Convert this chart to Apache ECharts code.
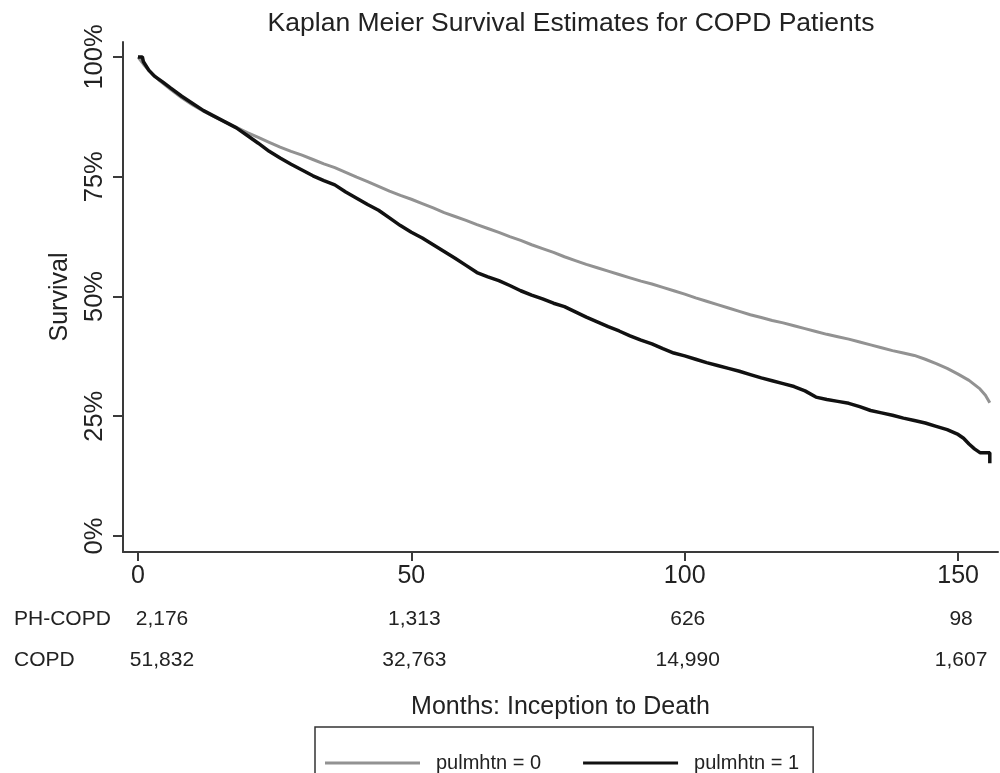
<!DOCTYPE html>
<html>
<head>
<meta charset="utf-8">
<script src="https://cdn.jsdelivr.net/npm/echarts@6/dist/echarts.min.js"></script>
<style>
  html, body { margin: 0; padding: 0; background: #fff; }
  #chart { width: 1000px; height: 773px; }
</style>
</head>
<body>
<div id="chart"></div>
<script>
// Kaplan-Meier survival estimates: [month, survival proportion]
const survivalNoPH = [
  [0, 1.0], [1, 0.985], [2, 0.972], [4, 0.95], [6, 0.932], [8, 0.915], [10, 0.9],
  [12, 0.887], [14, 0.875], [16, 0.864], [18, 0.853], [20, 0.842], [22, 0.832],
  [24, 0.822], [26, 0.812], [28, 0.803], [30, 0.795], [32, 0.786], [34, 0.777],
  [36, 0.769], [38, 0.759], [40, 0.749], [42, 0.74], [44, 0.73], [46, 0.72],
  [48, 0.711], [50, 0.703], [52, 0.694], [54, 0.685], [56, 0.675], [58, 0.667],
  [60, 0.659], [62, 0.65], [64, 0.642], [66, 0.634], [68, 0.625], [70, 0.617],
  [72, 0.608], [74, 0.6], [76, 0.592], [78, 0.583], [80, 0.575], [82, 0.567],
  [84, 0.56], [86, 0.553], [88, 0.546], [90, 0.539], [92, 0.532], [94, 0.526],
  [96, 0.519], [98, 0.512], [100, 0.505], [102, 0.497], [104, 0.49], [106, 0.483],
  [108, 0.476], [110, 0.469], [112, 0.462], [114, 0.456], [116, 0.45], [118, 0.445],
  [120, 0.439], [122, 0.433], [124, 0.427], [126, 0.421], [128, 0.416], [130, 0.411],
  [132, 0.405], [134, 0.399], [136, 0.393], [138, 0.387], [140, 0.382], [142, 0.377],
  [144, 0.369], [146, 0.36], [148, 0.35], [150, 0.338], [152, 0.325], [154, 0.307],
  [155, 0.294], [155.8, 0.278]
];

const survivalPH = [
  [0, 1.0], [0.8, 1.0], [1.0, 0.99], [2, 0.972], [3, 0.96], [4.5, 0.948], [6, 0.935],
  [8, 0.918], [10, 0.903], [12, 0.888], [14, 0.876], [16, 0.864], [18, 0.852],
  [20, 0.836], [22, 0.82], [24, 0.803], [26, 0.789], [28, 0.776], [30, 0.764],
  [32, 0.752], [34, 0.742], [36, 0.733], [38, 0.718], [40, 0.705], [42, 0.692],
  [44, 0.68], [46, 0.664], [48, 0.648], [50, 0.634], [52, 0.622], [54, 0.608],
  [56, 0.594], [58, 0.58], [60, 0.565], [62, 0.55], [64, 0.541], [66, 0.533],
  [68, 0.523], [70, 0.512], [72, 0.503], [74, 0.495], [76, 0.486], [78, 0.479],
  [80, 0.468], [82, 0.457], [84, 0.447], [86, 0.437], [88, 0.428], [90, 0.418],
  [92, 0.409], [94, 0.401], [96, 0.391], [98, 0.382], [100, 0.376], [102, 0.369],
  [104, 0.362], [106, 0.356], [108, 0.35], [110, 0.344], [112, 0.337], [114, 0.33],
  [116, 0.324], [118, 0.318], [120, 0.312], [122, 0.303], [124, 0.29], [126, 0.285],
  [128, 0.281], [130, 0.277], [132, 0.27], [134, 0.262], [136, 0.257], [138, 0.252],
  [140, 0.246], [142, 0.241], [144, 0.236], [146, 0.229], [148, 0.222], [150, 0.212],
  [151, 0.204], [152, 0.192], [153, 0.182], [154, 0.174], [155.8, 0.174], [155.8, 0.152]
];

// Axis ticks
const xTicks = [0, 50, 100, 150];
const yTicks = [0, 0.25, 0.5, 0.75, 1];

// Number at risk
const riskTimes = [0, 50, 100, 150];
const riskRowNames = ['PH-COPD', 'COPD'];
const riskPHCOPD = [2176, 1313, 626, 98];
const riskCOPD = [51832, 32763, 14990, 1607];

const FONT = "'Liberation Sans', Arial, Helvetica, sans-serif";
const TEXT = '#222';
const AXIS = '#3a3a3a';
const GRAY = '#929292';
const BLACK = '#111';

const chart = echarts.init(document.getElementById('chart'));

chart.setOption({
  backgroundColor: '#fff',
  animation: false,
  title: {
    text: 'Kaplan Meier Survival Estimates for COPD Patients',
    left: 566,
    textAlign: 'center',
    top: 5,
    textStyle: { fontFamily: FONT, fontSize: 26.5, fontWeight: 'normal', color: TEXT }
  },
  grid: { left: 123, right: 2, top: 42, bottom: 221, containLabel: false },
  xAxis: {
    type: 'value',
    min: -2.74,
    max: 157.3,
    name: 'Months: Inception to Death',
    nameLocation: 'middle',
    nameGap: 143,
    nameTextStyle: { fontFamily: FONT, fontSize: 25, color: TEXT },
    axisLine: { show: true, onZero: false, lineStyle: { color: AXIS, width: 2 } },
    axisTick: { show: true, length: 9, customValues: xTicks, lineStyle: { color: AXIS, width: 2 } },
    axisLabel: {
      customValues: xTicks, margin: 12, fontFamily: FONT, fontSize: 25, color: TEXT,
      showMinLabel: true, showMaxLabel: true
    },
    splitLine: { show: false }
  },
  yAxis: {
    type: 'value',
    min: -0.0334,
    max: 1.0313,
    name: 'Survival',
    nameLocation: 'middle',
    nameGap: 50,
    nameRotate: 90,
    nameTextStyle: { fontFamily: FONT, fontSize: 25, color: TEXT },
    axisLine: { show: true, onZero: false, lineStyle: { color: AXIS, width: 2 } },
    axisTick: { show: true, length: 10, customValues: yTicks, lineStyle: { color: AXIS, width: 2 } },
    axisLabel: {
      customValues: yTicks, rotate: 90, margin: 15, fontFamily: FONT, fontSize: 25.5, color: TEXT,
      formatter: v => Math.round(v * 100) + '%'
    },
    splitLine: { show: false }
  },
  legend: {
    left: 315,
    top: 727,
    orient: 'horizontal',
    padding: [26, 14, 40, 10],
    borderColor: '#333',
    borderWidth: 1.5,
    icon: 'rect',
    itemWidth: 95,
    itemHeight: 3,
    itemGap: 42,
    textStyle: { fontFamily: FONT, fontSize: 20, color: TEXT, padding: [0, 0, 0, 11] },
    data: [
      { name: 'pulmhtn = 0', itemStyle: { color: GRAY } },
      { name: 'pulmhtn = 1', itemStyle: { color: BLACK }, icon: 'rect' }
    ]
  },
  series: [
    {
      name: 'pulmhtn = 0',
      type: 'line',
      data: survivalNoPH,
      showSymbol: false,
      symbol: 'none',
      lineStyle: { color: GRAY, width: 3 },
      itemStyle: { color: GRAY }
    },
    {
      name: 'pulmhtn = 1',
      type: 'line',
      data: survivalPH,
      showSymbol: false,
      symbol: 'none',
      lineStyle: { color: BLACK, width: 3.5 },
      itemStyle: { color: BLACK }
    }
  ]
});

// Number-at-risk table under the x axis, placed from the axis scale
function riskTable() {
  const rows = [riskPHCOPD, riskCOPD];
  const rowY = [619, 660];
  const elements = [];
  rows.forEach((vals, r) => {
    elements.push({
      type: 'text', x: 14, y: rowY[r],
      style: {
        text: riskRowNames[r], fontFamily: FONT, fontSize: 21, fill: TEXT,
        align: 'left', verticalAlign: 'middle'
      }
    });
    vals.forEach((n, i) => {
      const px = chart.convertToPixel({ xAxisIndex: 0 }, riskTimes[i]) + (i === 0 ? 24 : 3);
      elements.push({
        type: 'text', x: px, y: rowY[r],
        style: {
          text: n.toLocaleString('en-US'), fontFamily: FONT, fontSize: 21, fill: TEXT,
          align: 'center', verticalAlign: 'middle'
        }
      });
    });
  });
  chart.setOption({ graphic: elements });
}
riskTable();
</script>
</body>
</html>
